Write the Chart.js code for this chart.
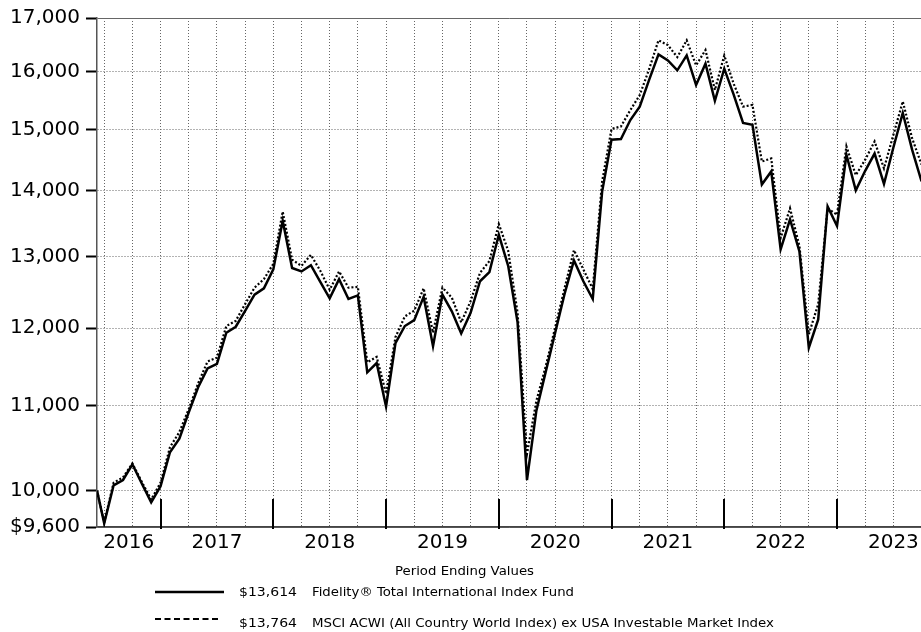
<!DOCTYPE html>
<html><head><meta charset="utf-8">
<script src="https://cdn.jsdelivr.net/npm/chart.js@4.4.0/dist/chart.umd.min.js"></script>
<style>html,body{margin:0;padding:0;background:#fff;}canvas{display:block;}</style>
</head><body>
<canvas id="c" width="921" height="632"></canvas>
<script>
// Period ending dates (start date, then month ends)
const periodEnd = [
  '2016-06-07','2016-06','2016-07','2016-08','2016-09','2016-10','2016-11','2016-12',
  '2017-01','2017-02','2017-03','2017-04','2017-05','2017-06','2017-07','2017-08','2017-09','2017-10','2017-11','2017-12',
  '2018-01','2018-02','2018-03','2018-04','2018-05','2018-06','2018-07','2018-08','2018-09','2018-10','2018-11','2018-12',
  '2019-01','2019-02','2019-03','2019-04','2019-05','2019-06','2019-07','2019-08','2019-09','2019-10','2019-11','2019-12',
  '2020-01','2020-02','2020-03','2020-04','2020-05','2020-06','2020-07','2020-08','2020-09','2020-10','2020-11','2020-12',
  '2021-01','2021-02','2021-03','2021-04','2021-05','2021-06','2021-07','2021-08','2021-09','2021-10','2021-11','2021-12',
  '2022-01','2022-02','2022-03','2022-04','2022-05','2022-06','2022-07','2022-08','2022-09','2022-10','2022-11','2022-12',
  '2023-01','2023-02','2023-03','2023-04','2023-05','2023-06','2023-07','2023-08','2023-09','2023-10'
];
const fundValues = [
  10000, 9640,10060,10120,10300,10080, 9870,10050,
  10440,10600,10920,11230,11470,11530,11940,12020,12235,12460,12550,12820,
  13540,12840,12790,12880,12640,12410,12680,12400,12450,11420,11540,10990,
  11800,12030,12110,12430,11760,12460,12230,11930,12210,12650,12780,13330,
  12870,12080,10120,10940,11430,11940,12470,12950,12650,12400,13990,14830,
  14840,15160,15390,15860,16320,16210,16030,16300,15770,16150,15490,16060,
  15600,15110,15080,14100,14310,13110,13560,13080,11740,12120,13760,13460,
  14580,14010,14320,14600,14110,14700,15280,14660,14150,13614
];
const indexValues = [
  10000, 9650,10090,10150,10310,10100, 9900,10090,
  10500,10680,10960,11280,11560,11610,12030,12100,12330,12560,12680,12900,
  13680,12960,12870,13030,12800,12530,12790,12560,12570,11550,11620,11150,
  11880,12160,12240,12550,11940,12560,12420,12080,12370,12770,12940,13490,
  13090,12210,10420,11060,11500,12010,12550,13100,12820,12540,14150,15010,
  15050,15330,15590,16050,16580,16490,16270,16580,16120,16400,15680,16300,
  15790,15390,15420,14470,14520,13280,13730,13160,11920,12330,13730,13630,
  14720,14250,14500,14800,14360,14910,15480,14850,14420,13764
];
const yTickValues = [9600,10000,11000,12000,13000,14000,15000,16000,17000];
const yearLabels = ['2016','2017','2018','2019','2020','2021','2022','2023'];
const seriesNames = ['Fidelity\u00AE Total International Index Fund','MSCI ACWI (All Country World Index) ex USA Investable Market Index'];
const endingValues = ['$13,614','$13,764'];
const xAxisTitle = 'Period Ending Values';

// months since Jan 1 2016 (month-end = end of that month)
function monthPos(s){
  const p = s.split('-').map(Number);
  if (p.length === 3) return (p[0]-2016)*12 + (p[1]-1) + p[2]/30;
  return (p[0]-2016)*12 + p[1];
}
const xs = periodEnd.map(monthPos);
const xMin = xs[0];
const xMax = 92.94;
const firstLabelPos = (xMin + 12) / 2;

function fmt(v){ return v.toString().replace(/\B(?=(\d{3})+(?!\d))/g, ','); }

function fitText(ctx, text, x, y, w, font){
  ctx.font = font;
  const m = ctx.measureText(text).width;
  ctx.save(); ctx.translate(x, y); ctx.scale(w/m, 1); ctx.fillText(text, 0, 0); ctx.restore();
}

const decor = {
  id: 'decor',
  afterDatasetsDraw(chart){
    const {ctx, chartArea, scales:{x}} = chart;
    ctx.save();
    ctx.strokeStyle = '#000'; ctx.lineWidth = 2; ctx.setLineDash([]);
    for (let i = 1; i < yearLabels.length; i++){
      const px = Math.round(x.getPixelForValue(i*12));
      ctx.beginPath(); ctx.moveTo(px, chartArea.bottom - 28); ctx.lineTo(px, chartArea.bottom + 2); ctx.stroke();
    }
    ctx.fillStyle = '#000';
    ctx.textBaseline = 'alphabetic';
    const f = '12.3px "DejaVu Sans", Verdana, sans-serif';
    fitText(ctx, xAxisTitle, 395, 574.5, 139, f);
    ctx.lineWidth = 2.5;
    ctx.beginPath(); ctx.moveTo(155, 592); ctx.lineTo(224, 592); ctx.stroke();
    ctx.lineWidth = 2.2; ctx.setLineDash([6,3.5]);
    ctx.beginPath(); ctx.moveTo(155, 619); ctx.lineTo(221, 619); ctx.stroke();
    ctx.setLineDash([]);
    fitText(ctx, endingValues[0], 239, 596, 58, f);
    fitText(ctx, seriesNames[0], 312, 596, 262, f);
    fitText(ctx, endingValues[1], 239, 627, 58, f);
    fitText(ctx, seriesNames[1], 312, 627, 462, f);
    ctx.restore();
  }
};

const isQuarter = v => Math.abs(v % 3) < 1e-9;

new Chart(document.getElementById('c'), {
  type: 'line',
  data: {
    datasets: [
      { label: seriesNames[0], data: xs.map((x,i)=>({x, y: fundValues[i]})),
        borderColor:'#000', borderWidth:2.5, pointRadius:0, tension:0, fill:false },
      { label: seriesNames[1], data: xs.map((x,i)=>({x, y: indexValues[i]})),
        borderColor:'#000', borderWidth:2.2, borderDash:[2,2], pointRadius:0, tension:0, fill:false }
    ]
  },
  options: {
    responsive:false, animation:false, devicePixelRatio:1,
    layout:{ padding:{ top:16, right:0, left:0, bottom:0 } },
    plugins:{ legend:{display:false}, tooltip:{enabled:false}, title:{display:false} },
    scales:{
      x:{
        type:'linear', min:xMin, max:xMax,
        afterBuildTicks(s){
          const t=[{value:firstLabelPos}];
          for(let v=6; v<=xMax; v+=3) t.push({value:v});
          t.sort((a,b)=>a.value-b.value);
          s.ticks=t;
        },
        afterFit(s){ s.height = 105; s.paddingLeft = 0; s.paddingRight = 0; },
        ticks:{ autoSkip:false, maxRotation:0, minRotation:0, padding:4, color:'#000',
          font:{ family:'"DejaVu Sans", Verdana, sans-serif', size:20 },
          callback(v){
            if (v === firstLabelPos) return yearLabels[0];
            if (isQuarter(v) && v % 12 === 6 && v >= 18) return yearLabels[(v-6)/12];
            return '';
          } },
        grid:{ lineWidth:1, drawTicks:false,
          color(ctx){ return (ctx.tick && !isQuarter(ctx.tick.value)) ? 'rgba(0,0,0,0)' : '#666'; } },
        border:{ display:true, color:'#444', width:1.5, dash:[1,2] }
      },
      y:{
        type:'logarithmic', min:9600, max:17000,
        afterBuildTicks(s){ s.ticks = yTickValues.map(v=>({value:v})); },
        afterFit(s){ s.width = 97; },
        ticks:{ padding:6, color:'#000', font:{ family:'"DejaVu Sans", Verdana, sans-serif', size:20 },
          callback(v){ return (v === yTickValues[0] ? '$' : '') + fmt(v); } },
        grid:{ color:'#666', lineWidth:1, tickColor:'#000', tickLength:11, tickWidth:2 },
        border:{ display:true, color:'#555', width:1.5,
          dash(ctx){ return (ctx.tick && (ctx.tick.value === 17000 || ctx.tick.value === 9600)) ? [] : [1,2]; } }
      }
    }
  },
  plugins:[decor]
});
</script>
</body></html>
